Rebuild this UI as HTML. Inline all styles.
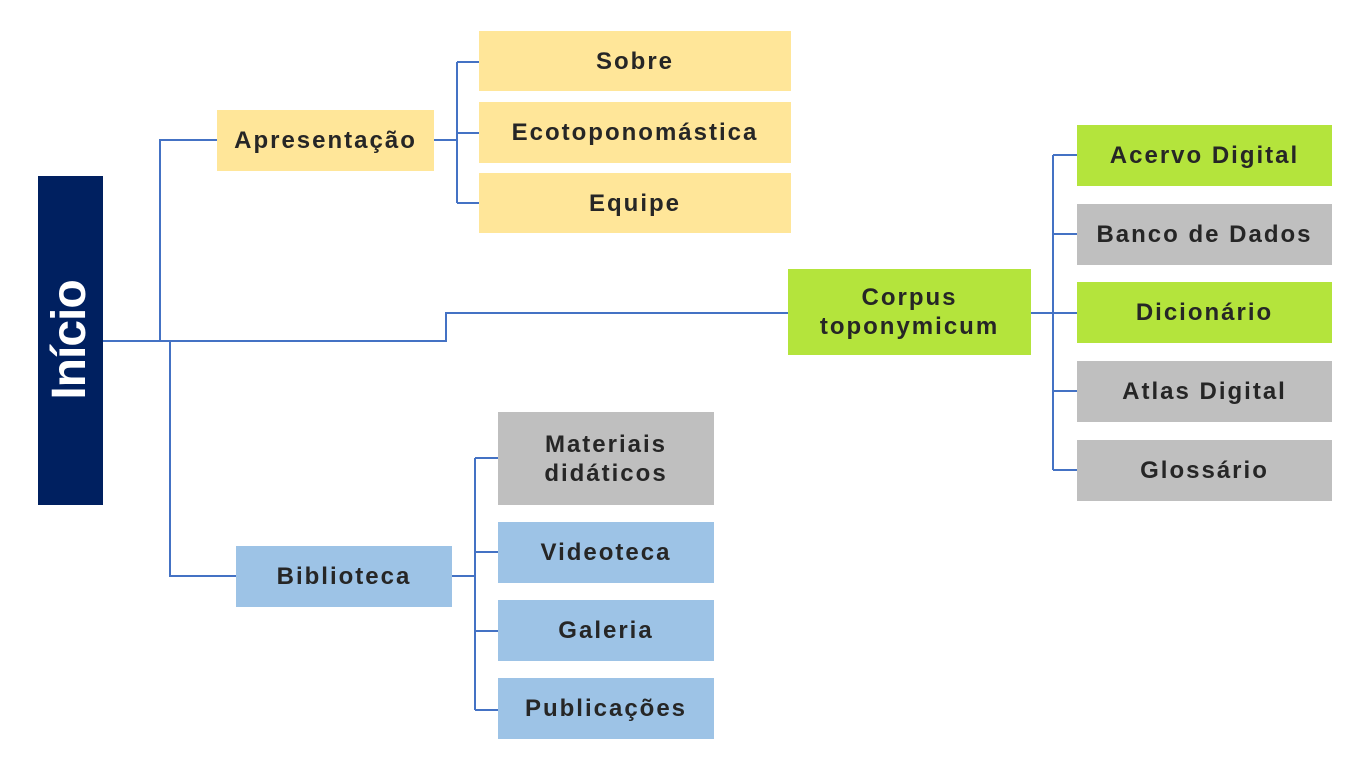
<!DOCTYPE html>
<html>
<head>
<meta charset="utf-8">
<style>
  html, body { margin:0; padding:0; background:#ffffff; }
  body { width:1365px; height:766px; position:relative; overflow:hidden; }
  svg.lines { position:absolute; left:0; top:0; }
  .b {
    position:absolute; display:flex; align-items:center; justify-content:center;
    text-align:center; color:#262626;
    font-family:"Liberation Sans", sans-serif; font-weight:bold;
    font-size:24px; letter-spacing:2px; line-height:29px;
    box-sizing:border-box;
  }
  .y { background:#FFE699; }
  .g { background:#B4E43C; }
  .gr { background:#BFBFBF; }
  .bl { background:#9DC3E6; }
</style>
</head>
<body>
<svg class="lines" width="1365" height="766" viewBox="0 0 1365 766">
  <g fill="none" stroke="#4472C4" stroke-width="2">
    <!-- main trunk -->
    <polyline points="103,341 446,341 446,313 788,313"/>
    <polyline points="160,341 160,140 217,140"/>
    <polyline points="170,341 170,576 236,576"/>
    <!-- Apresentação children -->
    <line x1="434" y1="140" x2="457" y2="140"/>
    <line x1="457" y1="62" x2="457" y2="203"/>
    <line x1="457" y1="62" x2="479" y2="62"/>
    <line x1="457" y1="133" x2="479" y2="133"/>
    <line x1="457" y1="203" x2="479" y2="203"/>
    <!-- Corpus children -->
    <line x1="1031" y1="313" x2="1053" y2="313"/>
    <line x1="1053" y1="155" x2="1053" y2="470"/>
    <line x1="1053" y1="155" x2="1077" y2="155"/>
    <line x1="1053" y1="234" x2="1077" y2="234"/>
    <line x1="1053" y1="313" x2="1077" y2="313"/>
    <line x1="1053" y1="391" x2="1077" y2="391"/>
    <line x1="1053" y1="470" x2="1077" y2="470"/>
    <!-- Biblioteca children -->
    <line x1="452" y1="576" x2="475" y2="576"/>
    <line x1="475" y1="458" x2="475" y2="710"/>
    <line x1="475" y1="458" x2="498" y2="458"/>
    <line x1="475" y1="552" x2="498" y2="552"/>
    <line x1="475" y1="631" x2="498" y2="631"/>
    <line x1="475" y1="710" x2="498" y2="710"/>
  </g>
  <rect x="38" y="176" width="65" height="329" fill="#002060"/>
  <text transform="translate(85,340) rotate(-90)" text-anchor="middle"
        font-family="Liberation Sans, sans-serif" font-weight="bold" font-size="48"
        letter-spacing="-1" fill="#ffffff">Início</text>
</svg>

<div class="b y" style="left:217px;top:110px;width:217px;height:61px;">Apresentação</div>
<div class="b y" style="left:479px;top:31px;width:312px;height:60px;">Sobre</div>
<div class="b y" style="left:479px;top:102px;width:312px;height:61px;">Ecotoponomástica</div>
<div class="b y" style="left:479px;top:173px;width:312px;height:60px;">Equipe</div>

<div class="b g" style="left:788px;top:269px;width:243px;height:86px;">Corpus<br>toponymicum</div>

<div class="b g" style="left:1077px;top:125px;width:255px;height:61px;">Acervo Digital</div>
<div class="b gr" style="left:1077px;top:204px;width:255px;height:61px;">Banco de Dados</div>
<div class="b g" style="left:1077px;top:282px;width:255px;height:61px;">Dicionário</div>
<div class="b gr" style="left:1077px;top:361px;width:255px;height:61px;">Atlas Digital</div>
<div class="b gr" style="left:1077px;top:440px;width:255px;height:61px;">Glossário</div>

<div class="b bl" style="left:236px;top:546px;width:216px;height:61px;">Biblioteca</div>
<div class="b gr" style="left:498px;top:412px;width:216px;height:93px;">Materiais<br>didáticos</div>
<div class="b bl" style="left:498px;top:522px;width:216px;height:61px;">Videoteca</div>
<div class="b bl" style="left:498px;top:600px;width:216px;height:61px;">Galeria</div>
<div class="b bl" style="left:498px;top:678px;width:216px;height:61px;">Publicações</div>
</body>
</html>
